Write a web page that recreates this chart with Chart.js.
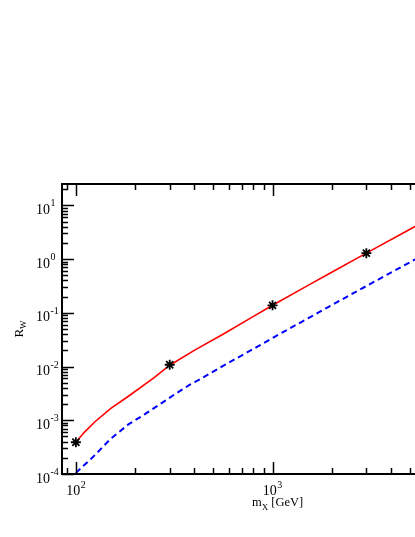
<!DOCTYPE html>
<html lang="en">
<head>
  <meta charset="UTF-8">
  <title>R_W vs m_X</title>
  <script src="https://cdn.jsdelivr.net/npm/chart.js"></script>
  <style>
    html, body { margin: 0; padding: 0; background: #fff; overflow: hidden; }
    #wrap { width: 500px; height: 537px; }
  </style>
</head>
<body>
  <div id="wrap"><canvas id="rwChart" width="500" height="537"></canvas></div>

  <script>
    // red solid curve
    const massRed = [100, 110, 125, 150, 185, 250, 300, 400, 560, 800, 1000, 1500, 2000, 3000, 5000, 10000];
    const rwRed = [3.9e-4, 5.9e-4, 9.4e-4, 1.65e-3, 2.8e-3, 6.2e-3, 1.06e-2, 2.0e-2, 4.0e-2, 8.6e-2, 0.138, 0.317, 0.571, 1.29, 3.6, 14.4];

    // blue dashed curve
    const massBlue = [100, 110, 125, 150, 185, 220, 265, 325, 380, 420, 560, 830, 1000, 1220, 1950, 3000, 5000, 10000];
    const rwBlue = [1.05e-4, 1.45e-4, 2.25e-4, 4.5e-4, 8.4e-4, 1.24e-3, 1.94e-3, 3.2e-3, 4.6e-3, 5.6e-3, 1.03e-2, 2.3e-2, 3.4e-2, 5.1e-2, 0.132, 0.315, 0.875, 3.5];

    // asterisk points
    const massStar = [100, 300, 1000, 3000];
    const rwStar = [3.9e-4, 1.08e-2, 0.138, 1.29];

    // tick labels (10^n)
    const xTicks = [100, 1000, 10000];
    const xTickExp = ['2', '3', '4'];
    const yTicks = [1e-4, 1e-3, 1e-2, 1e-1, 1, 10];
    const yTickExp = ['-4', '-3', '-2', '-1', '0', '1'];

    const FONT = '"Liberation Serif", "Times New Roman", serif';

    const toXY = (xs, ys) => xs.map((x, i) => ({ x, y: ys[i] }));

    function minorValues(majors, min, max) {
      const out = [];
      [majors[0] / 10, ...majors].forEach(d => {
        for (let k = 2; k <= 9; k++) {
          const v = d * k;
          if (v > min && v < max) out.push(v);
        }
      });
      return out;
    }

    // xmgrace-like frame: inward ticks, 10^n labels, axis titles
    const graceAxes = {
      id: 'graceAxes',
      afterDraw(chart) {
        const ctx = chart.ctx;
        const a = chart.chartArea;
        const xs = chart.scales.x;
        const ys = chart.scales.y;
        ctx.save();
        ctx.strokeStyle = '#000';
        ctx.fillStyle = '#000';

        // frame
        ctx.lineWidth = 2;
        ctx.beginPath();
        ctx.moveTo(a.right, a.top);
        ctx.lineTo(a.left, a.top);
        ctx.lineTo(a.left, a.bottom);
        ctx.lineTo(a.right, a.bottom);
        ctx.stroke();

        // ticks
        ctx.lineWidth = 1.5;
        ctx.beginPath();
        const xMinor = minorValues([100, 1000, 10000], xs.min, xs.max);
        xTicks.map(v => [v, 12]).concat(xMinor.map(v => [v, 6])).forEach(([v, len]) => {
          const px = Math.round(xs.getPixelForValue(v)) + 0.5;
          ctx.moveTo(px, a.bottom); ctx.lineTo(px, a.bottom - len);
          ctx.moveTo(px, a.top); ctx.lineTo(px, a.top + len);
        });
        const yMinor = minorValues(yTicks, ys.min, ys.max);
        yTicks.map(v => [v, 12]).concat(yMinor.map(v => [v, 6])).forEach(([v, len]) => {
          const py = Math.round(ys.getPixelForValue(v)) + 0.5;
          ctx.moveTo(a.left, py); ctx.lineTo(a.left + len, py);
          ctx.moveTo(a.right, py); ctx.lineTo(a.right - len, py);
        });
        ctx.stroke();

        // tick labels
        ctx.textBaseline = 'alphabetic';
        ctx.textAlign = 'left';
        xTicks.forEach((v, i) => {
          const px = xs.getPixelForValue(v);
          ctx.font = `14px ${FONT}`;
          const w1 = ctx.measureText('10').width;
          ctx.font = `10px ${FONT}`;
          const w2 = ctx.measureText(xTickExp[i]).width;
          const x0 = px - (w1 + w2 + 0.5) / 2;
          ctx.font = `14px ${FONT}`;
          ctx.fillText('10', x0, a.bottom + 21);
          ctx.font = `10px ${FONT}`;
          ctx.fillText(xTickExp[i], x0 + w1 + 0.5, a.bottom + 14);
        });
        yTicks.forEach((v, i) => {
          const py = ys.getPixelForValue(v);
          ctx.font = `14px ${FONT}`;
          const w1 = ctx.measureText('10').width;
          ctx.fillText('10', 36, py + 8.5);
          ctx.font = `10px ${FONT}`;
          ctx.fillText(yTickExp[i], 36 + w1 + 0.5, py + 1);
        });

        // x title: m_X [GeV]
        ctx.font = `12.5px ${FONT}`;
        const wm = ctx.measureText('m').width;
        const wg = ctx.measureText('[GeV]').width;
        ctx.font = `9px ${FONT}`;
        const wx = ctx.measureText('X').width;
        const gap = 3;
        let tx = (a.left + a.right) / 2 - (wm + wx + gap + wg) / 2;
        ctx.font = `12.5px ${FONT}`;
        ctx.fillText('m', tx, 506);
        ctx.font = `9px ${FONT}`;
        ctx.fillText('X', tx + wm, 510);
        ctx.font = `12.5px ${FONT}`;
        ctx.fillText('[GeV]', tx + wm + wx + gap, 506);

        // y title: R_W (rotated)
        ctx.translate(23, (a.top + a.bottom) / 2);
        ctx.rotate(-Math.PI / 2);
        ctx.font = `13px ${FONT}`;
        const wr = ctx.measureText('R').width;
        ctx.font = `9px ${FONT}`;
        const ww = ctx.measureText('W').width;
        const ty = -(wr + ww) / 2;
        ctx.font = `13px ${FONT}`;
        ctx.fillText('R', ty, 0);
        ctx.font = `9px ${FONT}`;
        ctx.fillText('W', ty + wr, 3);

        ctx.restore();
      }
    };

    const ctx = document.getElementById('rwChart').getContext('2d');
    new Chart(ctx, {
      type: 'line',
      data: {
        datasets: [
          {
            label: 'points',
            data: toXY(massStar, rwStar),
            showLine: false,
            pointStyle: 'star',
            pointRadius: 5,
            pointBorderWidth: 1.8,
            borderColor: '#000',
            backgroundColor: '#000'
          },
          {
            label: 'red',
            data: toXY(massRed, rwRed),
            borderColor: '#ff0000',
            borderWidth: 1.6,
            pointRadius: 0,
            tension: 0,
            fill: false
          },
          {
            label: 'blue',
            data: toXY(massBlue, rwBlue),
            borderColor: '#0000ff',
            borderWidth: 2,
            borderDash: [6, 4],
            pointRadius: 0,
            tension: 0,
            fill: false
          }
        ]
      },
      options: {
        responsive: false,
        animation: false,
        layout: { padding: { left: 62, top: 184, right: 6, bottom: 63 } },
        plugins: {
          legend: { display: false },
          tooltip: { enabled: false }
        },
        scales: {
          x: { type: 'logarithmic', min: 85, max: 13250, display: false },
          y: { type: 'logarithmic', min: 1e-4, max: 25, display: false }
        }
      },
      plugins: [graceAxes]
    });
  </script>
</body>
</html>
